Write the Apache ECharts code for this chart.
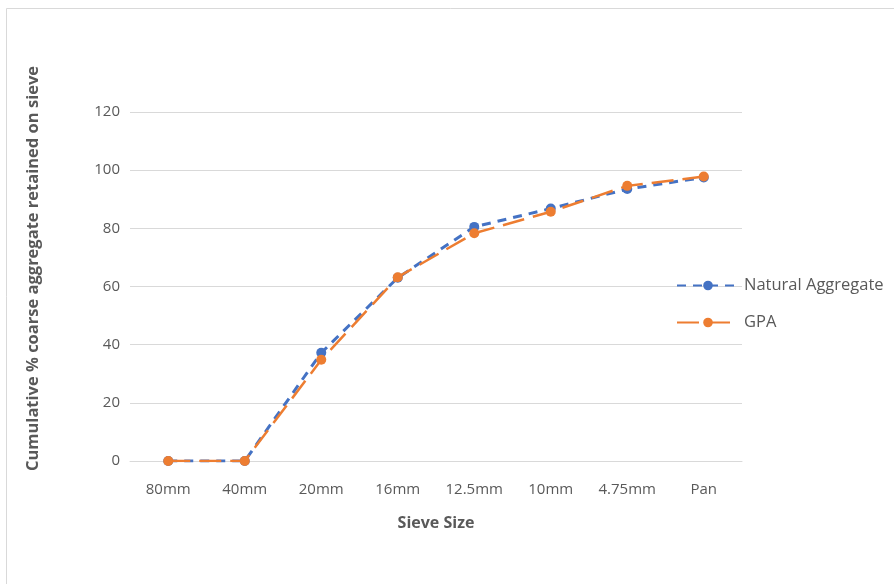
<!DOCTYPE html>
<html>
<head>
<meta charset="utf-8">
<script src="https://cdn.jsdelivr.net/npm/echarts@6/dist/echarts.min.js"></script>
<style>
  html, body { margin: 0; padding: 0; background: #fff; }
  #chart { width: 894px; height: 584px; }
</style>
</head>
<body>
<div id="chart"></div>
<script>
// Sieve sizes along the x axis
const sieveSizes = ['80mm', '40mm', '20mm', '16mm', '12.5mm', '10mm', '4.75mm', 'Pan'];
// Cumulative % retained for each aggregate type
const naturalAggregate = [0, 0, 37.2, 63, 80.5, 86.8, 93.5, 97.5];
const gpa = [0, 0, 34.8, 63.2, 78.3, 85.7, 94.6, 97.8];
// Y axis range and step
const yMin = 0, yMax = 120, yStep = 20;

const font = '"Open Sans", "Liberation Sans", sans-serif';
const labelColor = '#595959';
const gridColor = '#d9d9d9';

const chart = echarts.init(document.getElementById('chart'), null, { renderer: 'canvas' });

chart.setOption({
  backgroundColor: '#ffffff',
  animation: false,
  graphic: [{
    type: 'rect',
    shape: { x: 6.5, y: 8.5, width: 900, height: 600 },
    style: { fill: 'none', stroke: gridColor, lineWidth: 1 },
    silent: true,
    z: -10
  }],
  grid: { left: 130, right: 152, top: 112, bottom: 123 },
  legend: {
    orient: 'vertical',
    left: 671,
    top: 272,
    itemGap: 20,
    itemWidth: 62,
    itemHeight: 12,
    textStyle: { fontFamily: font, fontSize: 16.5, color: labelColor },
    data: ['Natural Aggregate', 'GPA']
  },
  xAxis: {
    type: 'category',
    data: sieveSizes,
    boundaryGap: true,
    axisLine: { show: true, lineStyle: { color: gridColor, width: 1 } },
    axisTick: { show: false },
    axisLabel: { fontFamily: font, fontSize: 15, color: labelColor, margin: 21 },
    name: 'Sieve Size',
    nameLocation: 'middle',
    nameGap: 54,
    nameTextStyle: { fontFamily: font, fontSize: 16, fontWeight: 'bold', color: labelColor }
  },
  yAxis: {
    type: 'value',
    min: yMin,
    max: yMax,
    interval: yStep,
    axisLine: { show: false },
    axisTick: { show: false },
    splitLine: { lineStyle: { color: gridColor, width: 1 } },
    axisLabel: { fontFamily: font, fontSize: 15, color: labelColor, margin: 10 },
    name: 'Cumulative % coarse aggregate retained on sieve',
    nameLocation: 'middle',
    nameGap: 88,
    nameTextStyle: {
      fontFamily: font, fontSize: 16.5, fontWeight: 'bold', color: labelColor,
      padding: [0, 0, 0, 36]
    }
  },
  series: [
    {
      name: 'Natural Aggregate',
      type: 'line',
      data: naturalAggregate,
      symbol: 'circle',
      symbolSize: 10,
      itemStyle: { color: '#4472C4' },
      lineStyle: { color: '#4472C4', width: 3, type: [9, 7] },
      z: 2
    },
    {
      name: 'GPA',
      type: 'line',
      data: gpa,
      symbol: 'circle',
      symbolSize: 10,
      itemStyle: { color: '#ED7D31' },
      lineStyle: { color: '#ED7D31', width: 2.5, type: [22, 9] },
      z: 3
    }
  ]
});
</script>
</body>
</html>
